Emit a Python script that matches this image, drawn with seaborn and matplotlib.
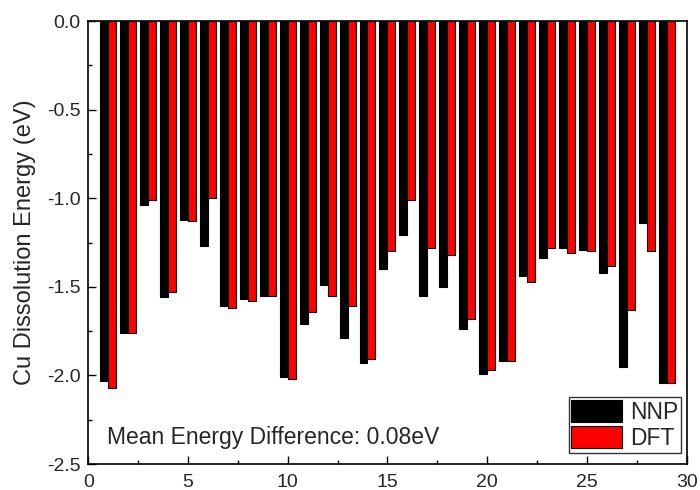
import numpy as np
import pandas as pd
import matplotlib
matplotlib.use("Agg")
import matplotlib.pyplot as plt
import seaborn as sns
from matplotlib.ticker import MultipleLocator, FormatStrFormatter
from matplotlib.patches import Patch

sites = list(range(1, 30))
nnp = [-2.03, -1.76, -1.04, -1.56, -1.12, -1.27, -1.61, -1.57, -1.55, -2.01,
       -1.71, -1.49, -1.79, -1.93, -1.40, -1.21, -1.55, -1.50, -1.74, -1.99,
       -1.92, -1.44, -1.34, -1.28, -1.29, -1.42, -1.95, -1.14, -2.04]
dft = [-2.07, -1.76, -1.01, -1.53, -1.13, -1.00, -1.62, -1.58, -1.55, -2.02,
       -1.64, -1.55, -1.61, -1.91, -1.30, -1.01, -1.28, -1.32, -1.68, -1.97,
       -1.92, -1.47, -1.28, -1.31, -1.30, -1.38, -1.63, -1.30, -2.04]
series = ["NNP", "DFT"]
colors = ["#000000", "#ff0000"]

df = pd.DataFrame({
    "site": sites * 2,
    "energy": nnp + dft,
    "method": ["NNP"] * len(sites) + ["DFT"] * len(sites),
})

sns.set_style("white")
plt.rcParams["font.family"] = ["Liberation Sans", "DejaVu Sans"]

fig = plt.figure(figsize=(7, 4.9), dpi=100)
ax = fig.add_axes([0.126, 0.053, 0.855, 0.904])

sns.barplot(data=df, x="site", y="energy", hue="method", hue_order=series,
            palette=colors, native_scale=True, width=0.8, dodge=True,
            edgecolor="black", linewidth=0.8, saturation=1, errorbar=None,
            legend=False, ax=ax)

ax.set_xlim(0, 30)
ax.set_ylim(-2.5, 0)
ax.xaxis.set_major_locator(MultipleLocator(5))
ax.xaxis.set_minor_locator(MultipleLocator(2.5))
ax.yaxis.set_major_locator(MultipleLocator(0.5))
ax.yaxis.set_minor_locator(MultipleLocator(0.25))
ax.yaxis.set_major_formatter(FormatStrFormatter("%.1f"))
ax.tick_params(axis="both", which="both", direction="in", bottom=True, left=True,
               top=False, right=False, labelsize=14, color="black", width=1)
ax.tick_params(axis="both", which="major", length=5.5)
ax.tick_params(axis="both", which="minor", length=3)
ax.tick_params(axis="x", which="major", pad=7)
ax.tick_params(axis="y", which="major", pad=5.5)
ax.set_xlabel("")
ax.set_ylabel("Cu Dissolution Energy (eV)", fontsize=17, labelpad=8)
for s in ax.spines.values():
    s.set_visible(True)
    s.set_color("black")
    s.set_linewidth(1.2)

ax.text(0.95, -2.35, "Mean Energy Difference: 0.08eV", fontsize=16.5,
        va="center", ha="left")

handles = [Patch(facecolor=c, edgecolor="black", linewidth=0.8) for c in colors]
leg = ax.legend(handles, series, loc="lower right", bbox_to_anchor=(0.99, 0.025),
                fontsize=16.5, frameon=True, fancybox=False, edgecolor="black",
                handlelength=2.2, handleheight=1.1, handletextpad=0.35,
                borderpad=0.12, labelspacing=0.12, borderaxespad=0)
leg.get_frame().set_linewidth(1.0)

fig.savefig("out.png", dpi=100)
